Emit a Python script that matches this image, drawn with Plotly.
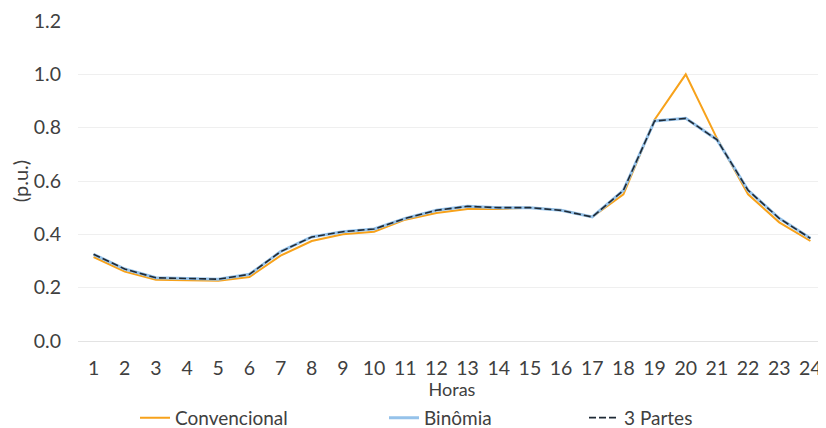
import plotly.graph_objects as go

horas = [str(h) for h in range(1, 25)]
convencional = [0.315, 0.26, 0.23, 0.228, 0.226, 0.24, 0.32, 0.375, 0.40, 0.41, 0.455, 0.48,
                0.495, 0.495, 0.50, 0.49, 0.465, 0.55, 0.83, 1.0, 0.76, 0.55, 0.445, 0.375]
binomia = [0.325, 0.27, 0.237, 0.234, 0.232, 0.25, 0.335, 0.39, 0.41, 0.42, 0.46, 0.49,
           0.505, 0.50, 0.50, 0.49, 0.465, 0.565, 0.825, 0.835, 0.755, 0.565, 0.46, 0.385]
tres_partes = [0.325, 0.27, 0.237, 0.234, 0.232, 0.25, 0.335, 0.39, 0.41, 0.42, 0.46, 0.49,
               0.505, 0.50, 0.50, 0.49, 0.465, 0.565, 0.825, 0.835, 0.755, 0.565, 0.46, 0.385]
y_ticks = [0.0, 0.2, 0.4, 0.6, 0.8, 1.0, 1.2]

FONT = "Lato"
TXT = "#404040"

# page has an 8px body margin, so the figure is sized to fill the rest of the window
W, H = 818, 420
L, T, B = 70, 13, 87
PW = W - L

fig = go.Figure()
fig.add_trace(go.Scatter(x=horas, y=convencional, mode="lines", name="Convencional",
                         line=dict(color="#F7A21B", width=2), legend="legend", showlegend=True))
fig.add_trace(go.Scatter(x=horas, y=binomia, mode="lines", name="Binômia",
                         line=dict(color="#95C2EA", width=3), legend="legend2", showlegend=True))
fig.add_trace(go.Scatter(x=horas, y=tres_partes, mode="lines", name="3 Partes",
                         line=dict(color="#1F2A36", width=1.6, dash="7px,3px"), legend="legend3",
                         showlegend=True))

leg_common = dict(orientation="h", yanchor="middle", y=-0.24, xanchor="left",
                  font=dict(family=FONT, size=19, color=TXT), bgcolor="rgba(0,0,0,0)",
                  itemwidth=30, visible=True)
fig.update_layout(
    width=W, height=H,
    margin=dict(l=L, r=0, t=T, b=B, autoexpand=False),
    paper_bgcolor="white", plot_bgcolor="white",
    showlegend=True,
    font=dict(family=FONT, size=18, color=TXT),
    legend=dict(x=(127 - L) / PW, **leg_common),
    legend2=dict(x=(376 - L) / PW, **leg_common),
    legend3=dict(x=(576 - L) / PW, **leg_common),
    xaxis=dict(type="category", range=[-0.5, 23.5], showgrid=False, showline=False,
               ticks="", automargin=False, ticklabelstandoff=13,
               tickfont=dict(family=FONT, size=19.5, color=TXT),
               title=dict(text="Horas", font=dict(family=FONT, size=18, color=TXT), standoff=5)),
    yaxis=dict(range=[0, 1.2], tickvals=y_ticks, ticktext=[f"{v:.1f}" for v in y_ticks],
               showgrid=True, gridcolor="#EFEFEF", gridwidth=1, zeroline=True,
               zerolinecolor="#E3E3E3", zerolinewidth=1, showline=False, ticks="",
               automargin=False,
               tickfont=dict(family=FONT, size=19.5, color=TXT), ticklabelstandoff=16,
               title=dict(text="(p.u.)", font=dict(family=FONT, size=20, color=TXT), standoff=4)),
)
fig.write_html("out.html")
